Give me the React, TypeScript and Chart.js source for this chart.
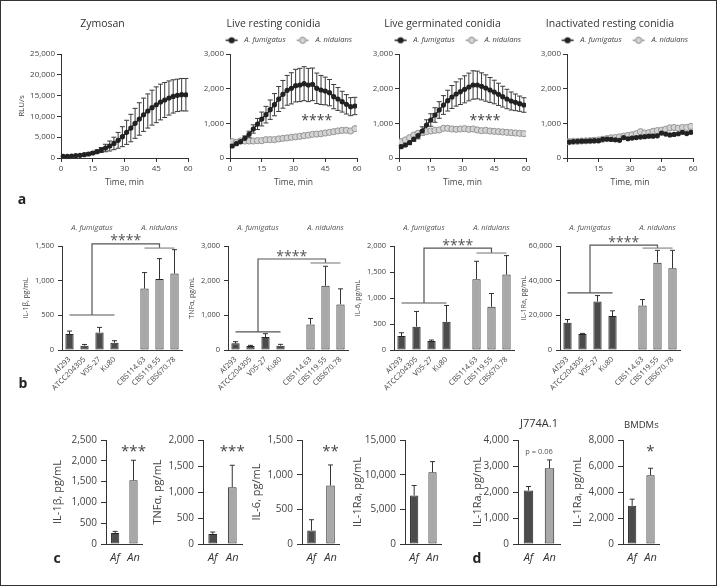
import React, { useEffect, useRef } from 'react';
import { Chart, registerables } from 'chart.js';

Chart.register(...registerables);

const FONT = "'Open Sans', 'Noto Sans', 'DejaVu Sans', sans-serif";
const AXIS = '#333333';
const TXT = '#444444';
const AF_FILL = '#4b4b4b';
const AN_FILL = '#a8a8a8';
const BAR_BORDER = '#262626';

// ---------------- Panel a: luminol kinetics ----------------
const timeMin = [1, 3, 5, 7, 9, 11, 13, 15, 17, 19, 21, 23, 25, 27, 29, 31, 33, 35, 37, 39, 41, 43, 45, 47, 49, 51, 53, 55, 57, 59];
const zymosanMean = [400, 400, 480, 560, 640, 800, 960, 1200, 1520, 1920, 2400, 2880, 3500, 4250, 5130, 6170, 7200, 8330, 9380, 10400, 11300, 12100, 12800, 13460, 13940, 14420, 14800, 15060, 15220, 15200];
const zymosanSD = [100, 100, 120, 150, 180, 220, 260, 320, 400, 600, 900, 1200, 1500, 1900, 2400, 2900, 3300, 3600, 3900, 4000, 4100, 4200, 4300, 4300, 4200, 4100, 4000, 3900, 3900, 3900];
const restingAf = [346, 413, 471, 567, 683, 837, 981, 1125, 1250, 1394, 1538, 1702, 1837, 1952, 2010, 2087, 2106, 2144, 2106, 2125, 2010, 1962, 1933, 1885, 1770, 1702, 1625, 1548, 1481, 1500];
const restingAfSD = [30, 40, 50, 70, 90, 120, 160, 200, 240, 280, 320, 360, 400, 430, 450, 470, 480, 490, 480, 470, 440, 420, 400, 380, 350, 330, 300, 280, 260, 250];
const restingAn = [471, 452, 490, 490, 490, 490, 500, 500, 529, 529, 529, 550, 567, 580, 596, 610, 625, 644, 660, 683, 690, 700, 721, 740, 760, 780, 798, 800, 779, 846];
const germAf = [327, 375, 442, 548, 644, 779, 952, 1096, 1240, 1385, 1529, 1654, 1760, 1846, 1913, 1981, 2048, 2106, 2106, 2067, 2019, 1962, 1904, 1837, 1770, 1702, 1644, 1606, 1567, 1529];
const germAfSD = [30, 40, 50, 70, 90, 120, 150, 180, 210, 240, 270, 300, 330, 350, 370, 390, 400, 410, 400, 390, 380, 360, 340, 320, 300, 280, 260, 240, 220, 210];
const germAn = [471, 519, 586, 663, 711, 740, 760, 779, 798, 808, 856, 856, 837, 827, 837, 846, 827, 837, 808, 788, 798, 779, 769, 760, 750, 740, 731, 721, 711, 702];
const inactAf = [460, 475, 480, 485, 490, 495, 500, 500, 540, 545, 535, 525, 510, 590, 555, 575, 590, 605, 615, 630, 630, 640, 720, 690, 665, 680, 700, 740, 705, 740];
const inactAn = [470, 480, 480, 490, 495, 500, 510, 520, 540, 560, 580, 590, 610, 630, 650, 670, 700, 760, 720, 730, 770, 790, 800, 830, 870, 880, 860, 880, 880, 910];

// ---------------- Panel b: strains ----------------
const afStrains = ['Af293', 'ATCC204305', 'V05-27', 'Ku80'];
const anStrains = ['CBS114.63', 'CBS119.55', 'CBS670.78'];
const il1bAf = [230, 62, 254, 105];
const il1bAfErr = [43, 18, 72, 29];
const il1bAn = [886, 1025, 1102];
const il1bAnErr = [231, 293, 345];
const tnfAf = [192, 115, 374, 125];
const tnfAfErr = [48, 19, 96, 38];
const tnfAn = [738, 1850, 1313];
const tnfAnErr = [172, 565, 451];
const il6Af = [268, 447, 172, 543];
const il6AfErr = [64, 294, 20, 313];
const il6An = [1361, 831, 1450];
const il6AnErr = [345, 255, 365];
const il1raAf = [15700, 9200, 28000, 19550];
const il1raAfErr = [1900, 400, 3400, 3050];
const il1raAn = [25700, 50400, 47200];
const il1raAnErr = [3400, 7100, 10300];
// significance bracket levels: [A. fumigatus line, top line, A. nidulans line]
const il1bBracket = [505, 1530, 1470];
const tnfBracket = [520, 2625, 2510];
const il6Bracket = [904, 1960, 1865];
const il1raBracket = [32900, 60500, 58800];

// ---------------- Panels c, d: Af vs An ----------------
const pairLabels = ['Af', 'An'];
const il1bPair = [264, 1533];
const il1bPairErr = [39, 480];
const tnfPair = [192, 1093];
const tnfPairErr = [38, 421];
const il6Pair = [195, 843];
const il6PairErr = [155, 297];
const il1raPair = [7000, 10350];
const il1raPairErr = [1435, 1535];
const j774Pair = [2058, 2914];
const j774PairErr = [153, 319];
const bmdmPair = [2939, 5290];
const bmdmPairErr = [511, 537];

// ---------------- plugins ----------------
const errorBarsPlugin = {
  id: 'errorBars',
  beforeDatasetsDraw(chart: any) {
    const { ctx } = chart;
    const yScale = chart.scales.y;
    chart.data.datasets.forEach((ds: any, i: number) => {
      if (!ds.errors) return;
      const meta = chart.getDatasetMeta(i);
      meta.data.forEach((el: any, j: number) => {
        const raw = ds.data[j];
        const err = ds.errors[j];
        if (raw == null || err == null) return;
        const v = typeof raw === 'object' ? raw.y : raw;
        const x = el.x;
        const yHi = yScale.getPixelForValue(v + err);
        const yLo = yScale.getPixelForValue(ds.errorBoth ? v - err : v);
        const cap = ds.errorCap ?? 2.5;
        ctx.save();
        ctx.strokeStyle = ds.errorColor || '#333';
        ctx.lineWidth = ds.errorWidth || 1;
        ctx.beginPath();
        ctx.moveTo(x, yLo);
        ctx.lineTo(x, yHi);
        ctx.moveTo(x - cap, yHi);
        ctx.lineTo(x + cap, yHi);
        if (ds.errorBoth) {
          ctx.moveTo(x - cap, yLo);
          ctx.lineTo(x + cap, yLo);
        }
        ctx.stroke();
        ctx.restore();
      });
    });
  },
};

const notesPlugin = {
  id: 'notes',
  afterDraw(chart: any, _args: any, opts: any) {
    const items = (opts && opts.items) || [];
    const { ctx, chartArea } = chart;
    const xs = chart.scales.x;
    const ys = chart.scales.y;
    for (let k = 0; k < items.length; k++) {
      const it = items[k];
      ctx.save();
      ctx.font = it.f;
      ctx.fillStyle = it.color || TXT;
      ctx.textAlign = 'center';
      ctx.textBaseline = it.baseline || 'middle';
      const x = it.x == null ? (chartArea.left + chartArea.right) / 2 : xs.getPixelForValue(it.x);
      const y = it.y == null ? chartArea.top + it.top : ys.getPixelForValue(it.y);
      ctx.fillText(it.text, x, y + (it.dy || 0));
      ctx.restore();
    }
  },
};

const bracketPlugin = {
  id: 'bracket',
  afterDatasetsDraw(chart: any, _args: any, opts: any) {
    if (!opts || !opts.levels) return;
    const { ctx, chartArea } = chart;
    const xs = chart.scales.x;
    const ys = chart.scales.y;
    const afY = opts.levels[0];
    const topY = opts.levels[1];
    const anY = opts.levels[2];
    const afA = 0;
    const afB = afStrains.length - 1;
    const anA = afStrains.length + 1;
    const anB = anA + anStrains.length - 1;
    const afC = (afA + afB) / 2;
    const anC = (anA + anB) / 2;
    const X = (v: number) => xs.getPixelForValue(v);
    const Y = (v: number) => ys.getPixelForValue(v);
    ctx.save();
    ctx.lineWidth = 1.2;
    ctx.strokeStyle = '#555';
    ctx.beginPath();
    ctx.moveTo(X(afA), Y(afY));
    ctx.lineTo(X(afB), Y(afY));
    ctx.moveTo(X(afC), Y(afY));
    ctx.lineTo(X(afC), Y(topY));
    ctx.lineTo(X(anC), Y(topY));
    ctx.lineTo(X(anC), Y(anY));
    ctx.stroke();
    ctx.strokeStyle = '#8a8a8a';
    ctx.beginPath();
    ctx.moveTo(X(anA), Y(anY));
    ctx.lineTo(X(anB), Y(anY));
    ctx.stroke();
    ctx.fillStyle = '#555';
    ctx.font = `14px ${FONT}`;
    ctx.textAlign = 'center';
    ctx.textBaseline = 'alphabetic';
    ctx.fillText('****', (X(afC) + X(anC)) / 2, Y(topY) + 1.5);
    ctx.font = `italic 7.5px ${FONT}`;
    ctx.fillStyle = '#555';
    ctx.textBaseline = 'middle';
    ctx.fillText('A. fumigatus', X(afC), chartArea.top - 18);
    ctx.fillText('A. nidulans', X(anC), chartArea.top - 18);
    ctx.restore();
  },
};

function legendMarker(dark: boolean) {
  const c = document.createElement('canvas');
  c.width = 21;
  c.height = 9;
  const g = c.getContext('2d')!;
  g.strokeStyle = dark ? '#222' : '#9a9a9a';
  g.lineWidth = 1.5;
  g.beginPath();
  g.moveTo(6, 4.5);
  g.lineTo(18, 4.5);
  g.stroke();
  g.beginPath();
  g.arc(12, 4.5, 3.1, 0, Math.PI * 2);
  g.fillStyle = dark ? '#222' : '#d4d4d4';
  g.fill();
  if (!dark) {
    g.lineWidth = 1;
    g.strokeStyle = '#8c8c8c';
    g.stroke();
  }
  return c;
}

// ---------------- config builders ----------------
const pts = (vals: number[]) => timeMin.map((t, i) => ({ x: t, y: vals[i] }));

function afLine(vals: number[], errs?: number[], label = 'A. fumigatus') {
  return {
    label,
    data: pts(vals),
    errors: errs,
    errorBoth: true,
    errorCap: 2.5,
    errorColor: '#3a3a3a',
    borderColor: '#222',
    backgroundColor: '#222',
    pointBackgroundColor: '#222',
    pointBorderColor: '#222',
    pointRadius: 2.6,
    pointBorderWidth: 0,
    borderWidth: 1.6,
    tension: 0,
  };
}
function anLine(vals: number[]) {
  return {
    label: 'A. nidulans',
    data: pts(vals),
    borderColor: '#c6c6c6',
    backgroundColor: '#d4d4d4',
    pointBackgroundColor: '#d4d4d4',
    pointBorderColor: '#959595',
    pointRadius: 3.1,
    pointBorderWidth: 1,
    borderWidth: 1.6,
    tension: 0,
  };
}

function yScaleBase(o: { max: number; step: number; title?: string; width: number; tick: number; titleSize: number; tickLen: number; pad: number }) {
  return {
    type: 'linear',
    min: 0,
    max: o.max,
    ticks: { stepSize: o.step, color: TXT, font: { family: FONT, size: o.tick }, padding: o.pad },
    grid: { display: true, drawOnChartArea: false, drawTicks: true, tickLength: o.tickLen, color: AXIS, lineWidth: 1 },
    border: { display: true, color: AXIS, width: 1 },
    title: { display: !!o.title, text: o.title || '', color: TXT, font: { family: FONT, size: o.titleSize }, padding: 0 },
    afterFit: (s: any) => {
      s.width = o.width;
    },
  };
}

function lineConfig(o: { title: string; datasets: any[]; yMax: number; yStep: number; yTitle?: string; yWidth: number; legend: boolean; hideXZero?: boolean; notes?: any[] }) {
  return {
    type: 'line',
    data: { datasets: o.datasets },
    options: {
      responsive: false,
      animation: false,
      devicePixelRatio: 1,
      layout: { padding: { top: 0, right: 8, left: 0, bottom: 0 } },
      plugins: {
        title: {
          display: true,
          text: o.title,
          color: '#333',
          font: { family: FONT, size: 10.5, weight: 'normal' },
          padding: { top: 6, bottom: o.legend ? 0.9 : 23.4 },
        },
        legend: o.legend
          ? {
              display: true,
              position: 'top',
              align: 'end',
              labels: {
                usePointStyle: true,
                pointStyleWidth: 21,
                boxHeight: 8,
                padding: 5,
                color: TXT,
                font: { family: FONT, size: 7.5, style: 'italic' },
                generateLabels: (chart: any) =>
                  chart.data.datasets.map((ds: any, i: number) => ({
                    text: ds.label,
                    pointStyle: legendMarker(i === 0),
                    datasetIndex: i,
                    hidden: false,
                    lineWidth: 0,
                    fillStyle: ds.backgroundColor,
                    strokeStyle: ds.borderColor,
                    fontColor: TXT,
                  })),
              },
            }
          : { display: false },
        tooltip: { enabled: false },
        notes: { items: o.notes || [] },
      },
      scales: {
        x: {
          type: 'linear',
          min: 0,
          max: 60,
          ticks: {
            stepSize: 15,
            color: TXT,
            font: { family: FONT, size: 8 },
            padding: 2,
            maxRotation: 0,
            callback: (v: any) => (o.hideXZero && v === 0 ? '' : String(v)),
          },
          grid: { display: true, drawOnChartArea: false, drawTicks: true, tickLength: 4, color: AXIS },
          border: { display: true, color: AXIS, width: 1 },
          title: { display: true, text: 'Time, min', color: TXT, font: { family: FONT, size: 8.5 }, padding: { top: 0, bottom: 4 } },
          afterFit: (s: any) => {
            s.height = 34;
          },
        },
        y: yScaleBase({ max: o.yMax, step: o.yStep, title: o.yTitle, width: o.yWidth, tick: 8, titleSize: 8, tickLen: 4, pad: 2 }),
      },
    },
    plugins: [errorBarsPlugin, notesPlugin],
  };
}

const nulls = (n: number) => Array(n).fill(null);

function strainConfig(o: { yMax: number; yStep: number; yTitle: string; af: number[]; afErr: number[]; an: number[]; anErr: number[]; levels: number[] }) {
  const nAf = afStrains.length;
  const nAn = anStrains.length;
  const common = { borderColor: BAR_BORDER, borderWidth: 1, borderSkipped: false, barPercentage: 0.55, categoryPercentage: 1, grouped: false, errorCap: 2.5, errorColor: '#333' };
  return {
    type: 'bar',
    data: {
      labels: [...afStrains, '', ...anStrains],
      datasets: [
        { label: 'A. fumigatus', data: [...o.af, ...nulls(nAn + 1)], errors: [...o.afErr, ...nulls(nAn + 1)], backgroundColor: AF_FILL, ...common },
        { label: 'A. nidulans', data: [...nulls(nAf + 1), ...o.an], errors: [...nulls(nAf + 1), ...o.anErr], backgroundColor: AN_FILL, ...common },
      ],
    },
    options: {
      responsive: false,
      animation: false,
      devicePixelRatio: 1,
      layout: { padding: { top: 26, right: 6, left: 0, bottom: 0 } },
      plugins: { legend: { display: false }, tooltip: { enabled: false }, bracket: { levels: o.levels } },
      scales: {
        x: {
          type: 'category',
          offset: true,
          ticks: { color: TXT, font: { family: FONT, size: 7.5 }, padding: 5, maxRotation: 45, minRotation: 45, autoSkip: false },
          grid: { display: false, drawTicks: false, tickLength: 0 },
          border: { display: true, color: AXIS, width: 1 },
          afterFit: (s: any) => {
            s.height = 45;
          },
        },
        y: yScaleBase({ max: o.yMax, step: o.yStep, title: o.yTitle, width: 40, tick: 7.5, titleSize: 7, tickLen: 4, pad: 4 }),
      },
    },
    plugins: [errorBarsPlugin, bracketPlugin],
  };
}

function pairConfig(o: { yMax: number; yStep: number; yTitle: string; vals: number[]; errs: number[]; yWidth: number; notes: any[] }) {
  return {
    type: 'bar',
    data: {
      labels: pairLabels,
      datasets: [
        {
          label: o.yTitle,
          data: o.vals,
          errors: o.errs,
          errorCap: 2.5,
          errorColor: '#333',
          backgroundColor: [AF_FILL, AN_FILL],
          borderColor: BAR_BORDER,
          borderWidth: 1,
          borderSkipped: false,
          barPercentage: 0.45,
          categoryPercentage: 1,
        },
      ],
    },
    options: {
      responsive: false,
      animation: false,
      devicePixelRatio: 1,
      layout: { padding: { top: 30, right: 5, left: 0, bottom: 0 } },
      plugins: { legend: { display: false }, tooltip: { enabled: false }, notes: { items: o.notes } },
      scales: {
        x: {
          type: 'category',
          offset: true,
          ticks: { color: '#333', font: { family: FONT, size: 11, style: 'italic' }, padding: 7, maxRotation: 0 },
          grid: { display: false, drawTicks: false, tickLength: 0 },
          border: { display: true, color: AXIS, width: 1 },
          afterFit: (s: any) => {
            s.height = 24;
          },
        },
        y: yScaleBase({ max: o.yMax, step: o.yStep, title: o.yTitle, width: o.yWidth, tick: 10, titleSize: 11, tickLen: 5, pad: 4 }),
      },
    },
    plugins: [errorBarsPlugin, notesPlugin],
  };
}

const star = (text: string) => ({ text, x: 1, top: 8, f: `15px ${FONT}`, baseline: 'alphabetic', dy: 8, color: '#444' });

// ---------------- layout ----------------
type Box = { left: number; top: number; width: number; height: number };

function ChartCanvas({ box, make }: { box: Box; make: () => any }) {
  const ref = useRef<HTMLCanvasElement | null>(null);
  useEffect(() => {
    if (!ref.current) return;
    const chart = new Chart(ref.current, make() as any);
    return () => chart.destroy();
  }, []);
  return (
    <canvas
      ref={ref}
      width={box.width}
      height={box.height}
      style={{ position: 'absolute', left: box.left, top: box.top, width: box.width, height: box.height }}
    />
  );
}

const charts: { box: Box; make: () => any }[] = [
  // row a
  {
    box: { left: 17, top: 12, width: 179, height: 180 },
    make: () => lineConfig({ title: 'Zymosan', datasets: [afLine(zymosanMean, zymosanSD, 'Zymosan')], yMax: 25000, yStep: 5000, yTitle: 'RLU/s', yWidth: 44, legend: false }),
  },
  {
    box: { left: 190, top: 12, width: 175, height: 180 },
    make: () =>
      lineConfig({
        title: 'Live resting conidia',
        datasets: [afLine(restingAf, restingAfSD), anLine(restingAn)],
        yMax: 3000,
        yStep: 1000,
        yWidth: 40,
        legend: true,
        notes: [{ text: '****', x: 41, y: 1154, f: `14px ${FONT}`, baseline: 'alphabetic', dy: 7.5, color: '#444' }],
      }),
  },
  {
    box: { left: 359, top: 12, width: 175, height: 180 },
    make: () =>
      lineConfig({
        title: 'Live germinated conidia',
        datasets: [afLine(germAf, germAfSD), anLine(germAn)],
        yMax: 3000,
        yStep: 1000,
        yWidth: 40,
        legend: true,
        notes: [{ text: '****', x: 40.6, y: 1154, f: `14px ${FONT}`, baseline: 'alphabetic', dy: 7.5, color: '#444' }],
      }),
  },
  {
    box: { left: 527, top: 12, width: 174, height: 180 },
    make: () =>
      lineConfig({
        title: 'Inactivated resting conidia',
        datasets: [afLine(inactAf), anLine(inactAn)],
        yMax: 3000,
        yStep: 1000,
        yWidth: 40,
        legend: true,
        hideXZero: true,
      }),
  },
  // row b
  {
    box: { left: 22, top: 220, width: 166, height: 175 },
    make: () => strainConfig({ yMax: 1500, yStep: 500, yTitle: 'IL-1β, pg/mL', af: il1bAf, afErr: il1bAfErr, an: il1bAn, anErr: il1bAnErr, levels: il1bBracket }),
  },
  {
    box: { left: 188, top: 220, width: 166, height: 175 },
    make: () => strainConfig({ yMax: 3000, yStep: 1000, yTitle: 'TNFα, pg/mL', af: tnfAf, afErr: tnfAfErr, an: tnfAn, anErr: tnfAnErr, levels: tnfBracket }),
  },
  {
    box: { left: 354, top: 220, width: 166, height: 175 },
    make: () => strainConfig({ yMax: 2000, yStep: 500, yTitle: 'IL-6, pg/mL', af: il6Af, afErr: il6AfErr, an: il6An, anErr: il6AnErr, levels: il6Bracket }),
  },
  {
    box: { left: 520, top: 220, width: 166, height: 175 },
    make: () => strainConfig({ yMax: 60000, yStep: 20000, yTitle: 'IL-1Ra, pg/mL', af: il1raAf, afErr: il1raAfErr, an: il1raAn, anErr: il1raAnErr, levels: il1raBracket }),
  },
  // row c
  {
    box: { left: 51, top: 410, width: 97, height: 158 },
    make: () => pairConfig({ yMax: 2500, yStep: 500, yTitle: 'IL-1β, pg/mL', vals: il1bPair, errs: il1bPairErr, yWidth: 55, notes: [star('***')] }),
  },
  {
    box: { left: 151, top: 410, width: 96, height: 158 },
    make: () => pairConfig({ yMax: 2000, yStep: 500, yTitle: 'TNFα, pg/mL', vals: tnfPair, errs: tnfPairErr, yWidth: 52, notes: [star('***')] }),
  },
  {
    box: { left: 250, top: 410, width: 95, height: 158 },
    make: () => pairConfig({ yMax: 1500, yStep: 500, yTitle: 'IL-6, pg/mL', vals: il6Pair, errs: il6PairErr, yWidth: 52, notes: [star('**')] }),
  },
  {
    box: { left: 351, top: 410, width: 96, height: 158 },
    make: () => pairConfig({ yMax: 15000, yStep: 5000, yTitle: 'IL-1Ra, pg/mL', vals: il1raPair, errs: il1raPairErr, yWidth: 54, notes: [] }),
  },
  // row d
  {
    box: { left: 471, top: 410, width: 94, height: 158 },
    make: () =>
      pairConfig({
        yMax: 4000,
        yStep: 1000,
        yTitle: 'IL-1Ra, pg/mL',
        vals: j774Pair,
        errs: j774PairErr,
        yWidth: 47,
        notes: [
          { text: 'J774A.1', top: -16, f: `11px ${FONT}`, color: '#333' },
          { text: 'p = 0.06', x: 0.5, top: 12, f: `7.5px ${FONT}`, color: '#555' },
        ],
      }),
  },
  {
    box: { left: 571, top: 410, width: 94, height: 158 },
    make: () =>
      pairConfig({
        yMax: 8000,
        yStep: 2000,
        yTitle: 'IL-1Ra, pg/mL',
        vals: bmdmPair,
        errs: bmdmPairErr,
        yWidth: 52,
        notes: [{ text: 'BMDMs', top: -15, f: `9.5px ${FONT}`, color: '#333' }, star('*')],
      }),
  },
];

const letters = [
  { t: 'a', x: 22, y: 199 },
  { t: 'b', x: 23, y: 383 },
  { t: 'c', x: 57, y: 558 },
  { t: 'd', x: 477, y: 558 },
];

export default function App() {
  return (
    <div style={{ position: 'absolute', left: 0, top: 0, width: 717, height: 586, background: '#fff', overflow: 'hidden' }}>
      {charts.map((c, i) => (
        <ChartCanvas key={i} box={c.box} make={c.make} />
      ))}
      {letters.map((l) => (
        <div
          key={l.t}
          style={{
            position: 'absolute',
            left: l.x,
            top: l.y,
            transform: 'translate(-50%, -50%)',
            font: `bold 14px ${FONT}`,
            color: '#222',
            lineHeight: '14px',
          }}
        >
          {l.t}
        </div>
      ))}
      <div
        style={{
          position: 'absolute',
          left: 0,
          top: 0,
          width: 717,
          height: 586,
          boxSizing: 'border-box',
          border: '1.5px solid #333',
          pointerEvents: 'none',
        }}
      />
    </div>
  );
}
